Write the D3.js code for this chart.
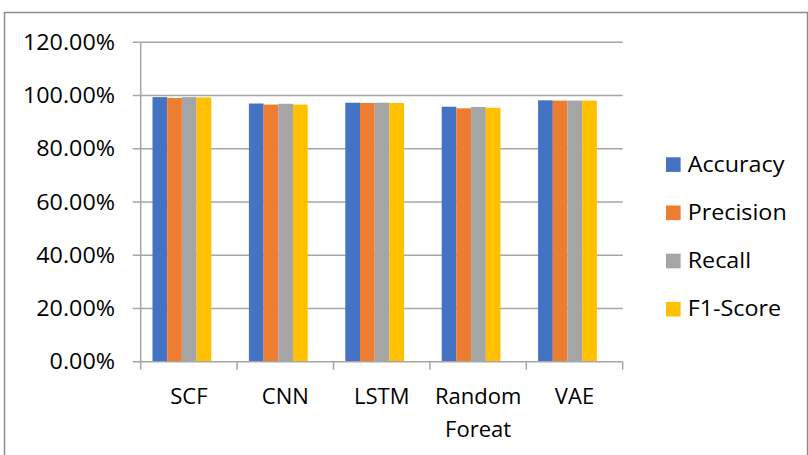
<!DOCTYPE html>
<html><head><meta charset="utf-8">
<script src="https://cdn.jsdelivr.net/npm/d3@7"></script>
<style>html,body{margin:0;padding:0;background:#fff;overflow:hidden}</style>
</head><body>
<svg id="c" width="808" height="455"></svg>
<script>
const categories = ["SCF", "CNN", "LSTM", "Random Foreat", "VAE"];
const seriesNames = ["Accuracy", "Precision", "Recall", "F1-Score"];
const accuracy  = [0.994, 0.970, 0.973, 0.958, 0.982];
const precision = [0.991, 0.966, 0.972, 0.952, 0.981];
const recall    = [0.994, 0.969, 0.973, 0.957, 0.981];
const f1Score   = [0.993, 0.966, 0.972, 0.954, 0.981];
const yTicks = [0, 0.2, 0.4, 0.6, 0.8, 1.0, 1.2];
const colors = ["#4472C4", "#ED7D31", "#A5A5A5", "#FFC000"];

const seriesValues = [accuracy, precision, recall, f1Score];
const FONT = "'Open Sans', sans-serif";
const svg = d3.select("#c");

function stretch(sel, k) {
  sel.each(function() {
    const n = this.getComputedTextLength();
    d3.select(this).attr("textLength", n * k).attr("lengthAdjust", "spacingAndGlyphs");
  });
}

// outer chart border
svg.append("rect").attr("x", 4.5).attr("y", 12.5).attr("width", 803).attr("height", 470)
  .attr("fill", "none").attr("stroke", "#8c8c8c").attr("stroke-width", 1.5);

const x0 = 140.7, x1 = 622.7, yB = 361.7, yT = 42.3;
const x = d3.scaleBand().domain(categories).range([x0, x1]).padding(0);
const xs = d3.scaleBand().domain(seriesNames).range([11.8, 11.8 + 58.8]).padding(0);
const y = d3.scaleLinear().domain([0, 1.2]).range([yB, yT]);

// gridlines
svg.append("g").selectAll("line").data(yTicks.filter(d => d > 0)).join("line")
  .attr("x1", x0 - 8).attr("x2", x1).attr("y1", d => y(d)).attr("y2", d => y(d))
  .attr("stroke", "#a6a6a6").attr("stroke-width", 1.5);

// y axis line
svg.append("line").attr("x1", x0).attr("x2", x0).attr("y1", yT).attr("y2", yB)
  .attr("stroke", "#a6a6a6").attr("stroke-width", 1.5);

// bars
const rows = [];
categories.forEach((c, i) => seriesNames.forEach((s, j) => rows.push({c, s, j, v: seriesValues[j][i]})));
svg.append("g").selectAll("rect").data(rows).join("rect")
  .attr("x", d => x(d.c) + xs(d.s)).attr("width", xs.bandwidth())
  .attr("y", d => y(d.v)).attr("height", d => y(0) - y(d.v))
  .attr("fill", d => colors[d.j]);

// x axis line and ticks
svg.append("line").attr("x1", x0 - 8).attr("x2", x1).attr("y1", yB).attr("y2", yB)
  .attr("stroke", "#a6a6a6").attr("stroke-width", 1.5);
const tickX = categories.map(c => x(c)).concat([x1]);
svg.append("g").selectAll("line").data(tickX).join("line")
  .attr("x1", d => d).attr("x2", d => d).attr("y1", yB).attr("y2", yB + 8)
  .attr("stroke", "#a6a6a6").attr("stroke-width", 1.5);

// y tick labels
const fmt = d3.format(".2%");
const yl = svg.append("g").selectAll("text").data(yTicks).join("text")
  .attr("x", 115).attr("y", d => y(d) + 7.5).attr("text-anchor", "end")
  .attr("font-family", FONT).attr("font-size", 21).attr("fill", "#000")
  .text(d => fmt(d));
stretch(yl, 1.11);

// category labels
const cl = svg.append("g").selectAll("text").data(categories).join("text")
  .attr("x", d => x(d) + x.bandwidth() / 2).attr("y", 404)
  .attr("text-anchor", "middle").attr("font-family", FONT).attr("font-size", 22).attr("fill", "#000");
cl.each(function(d) {
  const parts = d.split(" ");
  const t = d3.select(this);
  parts.forEach((p, k) => t.append("tspan").attr("x", x(d) + x.bandwidth() / 2).attr("dy", k === 0 ? 0 : 32.5).text(p));
});

// legend
const lg = svg.append("g").selectAll("g").data(seriesNames).join("g")
  .attr("transform", (d, i) => `translate(0,${171.7 + i * 48.2})`);
lg.append("rect").attr("x", 666).attr("y", -14.4).attr("width", 14.6).attr("height", 14.6)
  .attr("fill", (d, i) => colors[i]);
const lt = lg.append("text").attr("x", 687.7).attr("y", 0).attr("font-family", FONT).attr("font-size", 21)
  .attr("fill", "#000").text(d => d);
stretch(lt, 1.11);
</script>
</body></html>
